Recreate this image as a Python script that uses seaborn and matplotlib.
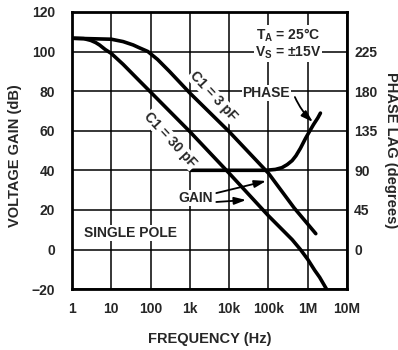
import matplotlib
matplotlib.use("Agg")
import matplotlib.pyplot as plt
import seaborn as sns
import numpy as np

# ---- data ----
freq_30pf = [1, 2, 3, 4, 5, 7, 10, 20, 50, 100, 1e3, 1e4, 1e5, 4e5, 6.5e5, 1e6, 1.5e6, 2e6, 3.0e6]
gain_30pf = [106.7, 106.5, 105.6, 104.5, 103.3, 101, 99, 93.5, 85.5, 79.5, 59.5, 38.5, 17, 5, 0, -5, -10.5, -14, -20]

freq_3pf = [1, 10, 20, 36, 50, 85, 150, 300, 1e3, 1e4, 1e5, 4.5e5, 1.6e6]
gain_3pf = [106.7, 106.2, 105, 103.3, 102, 100, 96, 90, 79, 59.5, 38.5, 21, 8]

freq_phase = [1e3, 1e4, 8.5e4, 1.5e5, 2.2e5, 3e5, 4e5, 5e5, 6.5e5, 8.7e5, 1.1e6, 1.4e6, 1.8e6, 2.1e6]
phase_deg = [90, 90, 90, 91, 93, 96.5, 101, 106.5, 115, 126, 134, 142, 149.5, 155]

x_ticks = [1, 10, 100, 1e3, 1e4, 1e5, 1e6, 1e7]
x_ticklabels = ["1", "10", "100", "1k", "10k", "100k", "1M", "10M"]
y_ticks = [-20, 0, 20, 40, 60, 80, 100, 120]
phase_ticks = [0, 45, 90, 135, 180, 225]

sns.set_style("white")
plt.rcParams['font.family'] = ['Liberation Sans', 'DejaVu Sans']
plt.rcParams['font.weight'] = 'bold'
plt.rcParams['mathtext.fontset'] = 'custom'
plt.rcParams['mathtext.rm'] = 'Liberation Sans:bold'
plt.rcParams['mathtext.it'] = 'Liberation Sans:bold'
plt.rcParams['mathtext.bf'] = 'Liberation Sans:bold'

fig = plt.figure(figsize=(3.98, 3.5), dpi=100)
ax = fig.add_axes([0.181, 0.174, 0.691, 0.792])
ax.set_xscale('log')
ax.set_xlim(1, 1e7)
ax.set_ylim(-20, 120)

LW = 2.6
sns.lineplot(x=freq_30pf, y=gain_30pf, ax=ax, color='black', lw=LW, sort=False)
sns.lineplot(x=freq_3pf, y=gain_3pf, ax=ax, color='black', lw=LW, sort=False)

ax.set_xticks(x_ticks)
ax.set_xticklabels(x_ticklabels)
ax.xaxis.set_minor_locator(matplotlib.ticker.NullLocator())
ax.set_yticks(y_ticks)
ax.tick_params(axis='both', length=0, labelsize=10)
ax.tick_params(axis='x', pad=9)
ax.tick_params(axis='y', pad=12)
for lab in ax.get_xticklabels() + ax.get_yticklabels():
    lab.set_fontweight('bold')
ax.grid(True, which='major', color='black', lw=1.1)
ax.set_axisbelow(True)
for s in ax.spines.values():
    s.set_color('black')
    s.set_linewidth(2)

ax.set_xlabel("FREQUENCY (Hz)", fontsize=10.5, fontweight='bold')
ax.xaxis.set_label_coords(0.5, -0.155)
ax.set_ylabel("VOLTAGE GAIN (dB)", fontsize=10.5, fontweight='bold')
ax.yaxis.set_label_coords(-0.182, 0.48)

ax2 = ax.twinx()
ax2.set_ylim(-45, 270)
ax2.set_yticks(phase_ticks)
ax2.tick_params(axis='y', length=0, labelsize=10, pad=5)
for lab in ax2.get_yticklabels():
    lab.set_fontweight('bold')
sns.lineplot(x=freq_phase, y=phase_deg, ax=ax2, color='black', lw=LW, sort=False)
ax2.set_ylabel("PHASE LAG (degrees)", fontsize=10.5, fontweight='bold', rotation=-90)
ax2.yaxis.set_label_coords(1.185, 0.5)
for s in ax2.spines.values():
    s.set_visible(False)
ax2.grid(False)

T = ax.transData
box = dict(facecolor='white', edgecolor='none', pad=0.5)
ax2.text(3.1e5, 108.4, r"T$_\mathrm{A}$ = 25°C", transform=T, ha='center', va='center',
         fontsize=10, fontweight='bold', bbox=box)
ax2.text(3.1e5, 99.3, r"V$_\mathrm{S}$ = ±15V", transform=T, ha='center', va='center',
         fontsize=10, fontweight='bold', bbox=box)
ax2.text(8.7e4, 79.1, "PHASE", transform=T, ha='center', va='center',
         fontsize=10, fontweight='bold', bbox=box)
ax2.text(1.4e3, 26, "GAIN", transform=T, ha='center', va='center',
         fontsize=10, fontweight='bold', bbox=box)
ax2.text(31, 8.3, "SINGLE POLE", transform=T, ha='center', va='center',
         fontsize=10, fontweight='bold', bbox=box)
ax2.text(3.9e3, 77.5, "C1 = 3 pF", transform=T, ha='center', va='center',
         fontsize=10, fontweight='bold', rotation=-47, rotation_mode='anchor', bbox=box)
ax2.text(320, 55.3, "C1 = 30 pF", transform=T, ha='center', va='center',
         fontsize=10, fontweight='bold', rotation=-47, rotation_mode='anchor', bbox=box)

ap = dict(arrowstyle='-|>,head_length=0.7,head_width=0.22', color='black', lw=1.3,
          shrinkA=0, shrinkB=0)
ax2.annotate('', xy=(1.35e6, 64.4), xytext=(4.7e5, 77), xycoords=T, textcoords=T,
             arrowprops=dict(ap, connectionstyle='arc3,rad=0.1'))
ax2.annotate('', xy=(8.7e4, 34.6), xytext=(4.7e3, 28.5), xycoords=T, textcoords=T,
             arrowprops=ap)
ax2.annotate('', xy=(2.7e4, 25), xytext=(4.7e3, 24), xycoords=T, textcoords=T,
             arrowprops=ap)

fig.savefig("out.png", dpi=100)
